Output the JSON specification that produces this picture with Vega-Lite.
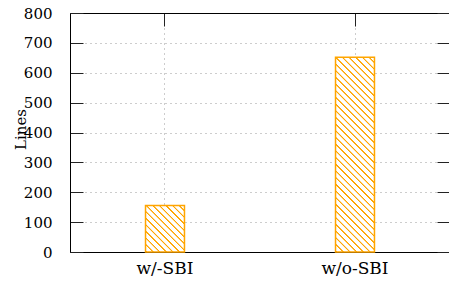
{
  "$schema": "https://vega.github.io/schema/vega-lite/v6.json",
  "width": 380,
  "height": 239,
  "autosize": "none",
  "padding": {"left": 70, "top": 13, "right": 0, "bottom": 30},
  "background": "white",
  "config": {
    "font": "DejaVu Serif",
    "view": {"stroke": null},
    "axis": {
      "domainColor": "black",
      "domainWidth": 1,
      "tickColor": "#222222",
      "tickWidth": 1,
      "tickSize": -13,
      "labelColor": "black",
      "labelFont": "DejaVu Serif",
      "titleFont": "DejaVu Serif",
      "titleColor": "black",
      "titleFontWeight": "normal",
      "gridColor": "#9a9a9a",
      "gridDash": [1, 4],
      "gridWidth": 1
    }
  },
  "data": {
    "values": [
      {"method": "w/-SBI", "lines": 156},
      {"method": "w/o-SBI", "lines": 652}
    ]
  },
  "layer": [
    {
      "transform": [{"filter": "datum.method === 'w/-SBI'"}],
      "mark": {
        "type": "bar",
        "stroke": "#ffa500",
        "strokeWidth": 1.5,
        "fill": {
          "gradient": "linear",
          "x1": 0, "y1": 1, "x2": 0.904, "y2": -0.08,
          "stops": [
            {"offset": 0, "color": "white"}, {"offset": 0.0077, "color": "#ffa500"}, {"offset": 0.0192, "color": "#ffa500"}, {"offset": 0.0269, "color": "white"},
            {"offset": 0.0769, "color": "white"}, {"offset": 0.0846, "color": "#ffa500"}, {"offset": 0.0962, "color": "#ffa500"}, {"offset": 0.1038, "color": "white"},
            {"offset": 0.1538, "color": "white"}, {"offset": 0.1615, "color": "#ffa500"}, {"offset": 0.1731, "color": "#ffa500"}, {"offset": 0.1808, "color": "white"},
            {"offset": 0.2308, "color": "white"}, {"offset": 0.2385, "color": "#ffa500"}, {"offset": 0.25, "color": "#ffa500"}, {"offset": 0.2577, "color": "white"},
            {"offset": 0.3077, "color": "white"}, {"offset": 0.3154, "color": "#ffa500"}, {"offset": 0.3269, "color": "#ffa500"}, {"offset": 0.3346, "color": "white"},
            {"offset": 0.3846, "color": "white"}, {"offset": 0.3923, "color": "#ffa500"}, {"offset": 0.4038, "color": "#ffa500"}, {"offset": 0.4115, "color": "white"},
            {"offset": 0.4615, "color": "white"}, {"offset": 0.4692, "color": "#ffa500"}, {"offset": 0.4808, "color": "#ffa500"}, {"offset": 0.4885, "color": "white"},
            {"offset": 0.5385, "color": "white"}, {"offset": 0.5462, "color": "#ffa500"}, {"offset": 0.5577, "color": "#ffa500"}, {"offset": 0.5654, "color": "white"},
            {"offset": 0.6154, "color": "white"}, {"offset": 0.6231, "color": "#ffa500"}, {"offset": 0.6346, "color": "#ffa500"}, {"offset": 0.6423, "color": "white"},
            {"offset": 0.6923, "color": "white"}, {"offset": 0.7, "color": "#ffa500"}, {"offset": 0.7115, "color": "#ffa500"}, {"offset": 0.7192, "color": "white"},
            {"offset": 0.7692, "color": "white"}, {"offset": 0.7769, "color": "#ffa500"}, {"offset": 0.7885, "color": "#ffa500"}, {"offset": 0.7962, "color": "white"},
            {"offset": 0.8462, "color": "white"}, {"offset": 0.8538, "color": "#ffa500"}, {"offset": 0.8654, "color": "#ffa500"}, {"offset": 0.8731, "color": "white"},
            {"offset": 0.9231, "color": "white"}, {"offset": 0.9308, "color": "#ffa500"}, {"offset": 0.9423, "color": "#ffa500"}, {"offset": 0.95, "color": "white"},
            {"offset": 1, "color": "white"}
          ]
        }
      },
      "encoding": {
        "x": {
          "field": "method", "type": "nominal",
          "scale": {"domain": ["w/-SBI", "w/o-SBI"], "paddingInner": 0.795, "paddingOuter": 0.3975},
          "axis": {"orient": "bottom", "title": null, "labelAngle": 0, "labelFontSize": 17, "labelBaseline": "alphabetic", "labelPadding": 34, "grid": true}
        },
        "y": {
          "field": "lines", "type": "quantitative",
          "scale": {"domain": [0, 800], "nice": false},
          "axis": {
            "orient": "left", "values": [0, 100, 200, 300, 400, 500, 600, 700, 800],
            "labelFontSize": 15, "labelPadding": 31, "grid": true,
            "title": "Lines", "titleFontSize": 15, "titleAngle": 270,
            "titleAlign": "center", "titleBaseline": "alphabetic",
            "titleX": -45, "titleY": 116
          }
        }
      }
    },
    {
      "transform": [{"filter": "datum.method === 'w/o-SBI'"}],
      "mark": {
        "type": "bar",
        "stroke": "#ffa500",
        "strokeWidth": 1.5,
        "fill": {
          "gradient": "linear",
          "x1": 0, "y1": 1, "x2": 0.231, "y2": -0.154,
          "stops": [
            {"offset": 0, "color": "white"}, {"offset": 0.0029, "color": "#ffa500"}, {"offset": 0.0071, "color": "#ffa500"}, {"offset": 0.01, "color": "white"},
            {"offset": 0.0286, "color": "white"}, {"offset": 0.0314, "color": "#ffa500"}, {"offset": 0.0357, "color": "#ffa500"}, {"offset": 0.0386, "color": "white"},
            {"offset": 0.0571, "color": "white"}, {"offset": 0.06, "color": "#ffa500"}, {"offset": 0.0643, "color": "#ffa500"}, {"offset": 0.0671, "color": "white"},
            {"offset": 0.0857, "color": "white"}, {"offset": 0.0886, "color": "#ffa500"}, {"offset": 0.0929, "color": "#ffa500"}, {"offset": 0.0957, "color": "white"},
            {"offset": 0.1143, "color": "white"}, {"offset": 0.1171, "color": "#ffa500"}, {"offset": 0.1214, "color": "#ffa500"}, {"offset": 0.1243, "color": "white"},
            {"offset": 0.1429, "color": "white"}, {"offset": 0.1457, "color": "#ffa500"}, {"offset": 0.15, "color": "#ffa500"}, {"offset": 0.1529, "color": "white"},
            {"offset": 0.1714, "color": "white"}, {"offset": 0.1743, "color": "#ffa500"}, {"offset": 0.1786, "color": "#ffa500"}, {"offset": 0.1814, "color": "white"},
            {"offset": 0.2, "color": "white"}, {"offset": 0.2029, "color": "#ffa500"}, {"offset": 0.2071, "color": "#ffa500"}, {"offset": 0.21, "color": "white"},
            {"offset": 0.2286, "color": "white"}, {"offset": 0.2314, "color": "#ffa500"}, {"offset": 0.2357, "color": "#ffa500"}, {"offset": 0.2386, "color": "white"},
            {"offset": 0.2571, "color": "white"}, {"offset": 0.26, "color": "#ffa500"}, {"offset": 0.2643, "color": "#ffa500"}, {"offset": 0.2671, "color": "white"},
            {"offset": 0.2857, "color": "white"}, {"offset": 0.2886, "color": "#ffa500"}, {"offset": 0.2929, "color": "#ffa500"}, {"offset": 0.2957, "color": "white"},
            {"offset": 0.3143, "color": "white"}, {"offset": 0.3171, "color": "#ffa500"}, {"offset": 0.3214, "color": "#ffa500"}, {"offset": 0.3243, "color": "white"},
            {"offset": 0.3429, "color": "white"}, {"offset": 0.3457, "color": "#ffa500"}, {"offset": 0.35, "color": "#ffa500"}, {"offset": 0.3529, "color": "white"},
            {"offset": 0.3714, "color": "white"}, {"offset": 0.3743, "color": "#ffa500"}, {"offset": 0.3786, "color": "#ffa500"}, {"offset": 0.3814, "color": "white"},
            {"offset": 0.4, "color": "white"}, {"offset": 0.4029, "color": "#ffa500"}, {"offset": 0.4071, "color": "#ffa500"}, {"offset": 0.41, "color": "white"},
            {"offset": 0.4286, "color": "white"}, {"offset": 0.4314, "color": "#ffa500"}, {"offset": 0.4357, "color": "#ffa500"}, {"offset": 0.4386, "color": "white"},
            {"offset": 0.4571, "color": "white"}, {"offset": 0.46, "color": "#ffa500"}, {"offset": 0.4643, "color": "#ffa500"}, {"offset": 0.4671, "color": "white"},
            {"offset": 0.4857, "color": "white"}, {"offset": 0.4886, "color": "#ffa500"}, {"offset": 0.4929, "color": "#ffa500"}, {"offset": 0.4957, "color": "white"},
            {"offset": 0.5143, "color": "white"}, {"offset": 0.5171, "color": "#ffa500"}, {"offset": 0.5214, "color": "#ffa500"}, {"offset": 0.5243, "color": "white"},
            {"offset": 0.5429, "color": "white"}, {"offset": 0.5457, "color": "#ffa500"}, {"offset": 0.55, "color": "#ffa500"}, {"offset": 0.5529, "color": "white"},
            {"offset": 0.5714, "color": "white"}, {"offset": 0.5743, "color": "#ffa500"}, {"offset": 0.5786, "color": "#ffa500"}, {"offset": 0.5814, "color": "white"},
            {"offset": 0.6, "color": "white"}, {"offset": 0.6029, "color": "#ffa500"}, {"offset": 0.6071, "color": "#ffa500"}, {"offset": 0.61, "color": "white"},
            {"offset": 0.6286, "color": "white"}, {"offset": 0.6314, "color": "#ffa500"}, {"offset": 0.6357, "color": "#ffa500"}, {"offset": 0.6386, "color": "white"},
            {"offset": 0.6571, "color": "white"}, {"offset": 0.66, "color": "#ffa500"}, {"offset": 0.6643, "color": "#ffa500"}, {"offset": 0.6671, "color": "white"},
            {"offset": 0.6857, "color": "white"}, {"offset": 0.6886, "color": "#ffa500"}, {"offset": 0.6929, "color": "#ffa500"}, {"offset": 0.6957, "color": "white"},
            {"offset": 0.7143, "color": "white"}, {"offset": 0.7171, "color": "#ffa500"}, {"offset": 0.7214, "color": "#ffa500"}, {"offset": 0.7243, "color": "white"},
            {"offset": 0.7429, "color": "white"}, {"offset": 0.7457, "color": "#ffa500"}, {"offset": 0.75, "color": "#ffa500"}, {"offset": 0.7529, "color": "white"},
            {"offset": 0.7714, "color": "white"}, {"offset": 0.7743, "color": "#ffa500"}, {"offset": 0.7786, "color": "#ffa500"}, {"offset": 0.7814, "color": "white"},
            {"offset": 0.8, "color": "white"}, {"offset": 0.8029, "color": "#ffa500"}, {"offset": 0.8071, "color": "#ffa500"}, {"offset": 0.81, "color": "white"},
            {"offset": 0.8286, "color": "white"}, {"offset": 0.8314, "color": "#ffa500"}, {"offset": 0.8357, "color": "#ffa500"}, {"offset": 0.8386, "color": "white"},
            {"offset": 0.8571, "color": "white"}, {"offset": 0.86, "color": "#ffa500"}, {"offset": 0.8643, "color": "#ffa500"}, {"offset": 0.8671, "color": "white"},
            {"offset": 0.8857, "color": "white"}, {"offset": 0.8886, "color": "#ffa500"}, {"offset": 0.8929, "color": "#ffa500"}, {"offset": 0.8957, "color": "white"},
            {"offset": 0.9143, "color": "white"}, {"offset": 0.9171, "color": "#ffa500"}, {"offset": 0.9214, "color": "#ffa500"}, {"offset": 0.9243, "color": "white"},
            {"offset": 0.9429, "color": "white"}, {"offset": 0.9457, "color": "#ffa500"}, {"offset": 0.95, "color": "#ffa500"}, {"offset": 0.9529, "color": "white"},
            {"offset": 0.9714, "color": "white"}, {"offset": 0.9743, "color": "#ffa500"}, {"offset": 0.9786, "color": "#ffa500"}, {"offset": 0.9814, "color": "white"},
            {"offset": 1, "color": "white"}
          ]
        }
      },
      "encoding": {
        "x": {
          "field": "method", "type": "nominal",
          "scale": {"domain": ["w/-SBI", "w/o-SBI"], "paddingInner": 0.795, "paddingOuter": 0.3975},
          "axis": {"orient": "top", "title": null, "labels": false, "grid": false}
        },
        "y": {
          "field": "lines", "type": "quantitative",
          "scale": {"domain": [0, 800], "nice": false},
          "axis": {"orient": "right", "values": [0, 100, 200, 300, 400, 500, 600, 700, 800], "labels": false, "grid": false, "title": null}
        }
      }
    }
  ],
  "resolve": {"axis": {"x": "independent", "y": "independent"}}
}
